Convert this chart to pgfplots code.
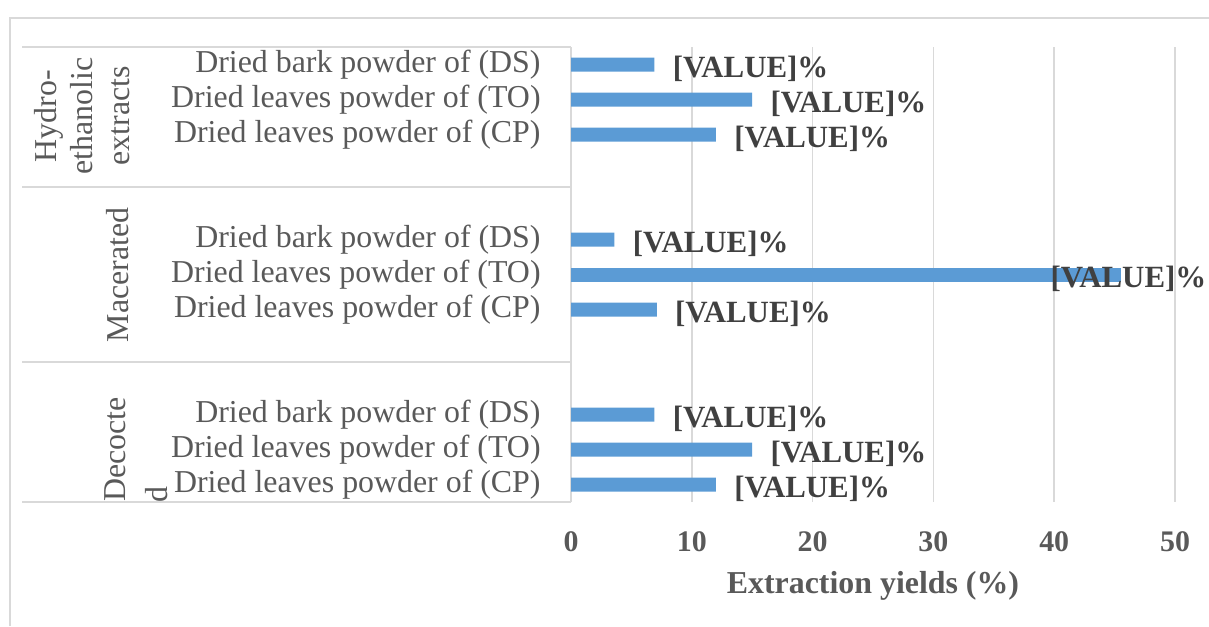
\documentclass[border=0pt]{standalone}
\usepackage{fontspec}
\setmainfont{Liberation Serif}
\usepackage{pgfplots}
\pgfplotsset{compat=1.18}
\definecolor{barblue}{HTML}{5B9BD5}
\definecolor{gridc}{HTML}{D9D9D9}
\definecolor{txt}{HTML}{595959}
\definecolor{lbl}{HTML}{404040}
\begin{document}
\begin{tikzpicture}[x=1bp,y=1bp]
\useasboundingbox (0,0) rectangle (604.5,313);
\draw[gridc, line width=1bp] (5,0) -- (5,304) -- (604.5,304);
\begin{axis}[
  at={(285.5bp,62bp)}, anchor=south west,
  scale only axis, width=302bp, height=227.5bp,
  xmin=0, xmax=50, ymin=-0.5, ymax=12.5, y dir=reverse,
  xbar, bar width=7bp, bar shift=0pt,
  axis line style={draw=none},
  xtick={0,10,...,50}, xmajorgrids, grid style={gridc, line width=0.75bp},
  major tick length=0pt,
  ytick={0,1,2,5,6,7,10,11,12},
  yticklabels={Dried bark powder of (DS), Dried leaves powder of (TO), Dried leaves powder of (CP),
               Dried bark powder of (DS), Dried leaves powder of (TO), Dried leaves powder of (CP),
               Dried bark powder of (DS), Dried leaves powder of (TO), Dried leaves powder of (CP)},
  yticklabel style={font=\fontsize{16}{18}\selectfont, text=txt, inner sep=0pt, anchor=east, xshift=-15bp},
  xticklabel style={font=\fontsize{15}{18}\selectfont\bfseries, text=txt, inner sep=0pt, anchor=north, yshift=-14.5bp},
  /pgf/number format/assume math mode=true,
  xlabel={Extraction yields (\%)},
  xlabel style={font=\fontsize{16}{18}\selectfont\bfseries, text=txt, inner sep=0pt, at={(axis description cs:0.5,0)}, anchor=north, yshift=-34.5bp},
  clip=false,
  nodes near coords={[VALUE]\%},
  every node near coord/.append style={font=\fontsize{15.5}{18}\selectfont\bfseries, text=lbl, inner sep=0pt, anchor=west, xshift=9bp, yshift=-2.25bp},
]
\addplot[fill=barblue, draw=none] coordinates {(6.9,0) (15,1) (12,2) (3.6,5) (7.1,7) (6.9,10) (15,11) (12,12)};
\addplot[fill=barblue, draw=none, every node near coord/.append style={anchor=east, xshift=34bp}] coordinates {(45.5,6)};
\draw[gridc, line width=1bp] (axis cs:0,-0.5) -- ++(-274.5bp,0pt);
\draw[gridc, line width=1bp] (axis cs:0,3.5) -- ++(-274.5bp,0pt);
\draw[gridc, line width=1bp] (axis cs:0,8.5) -- ++(-274.5bp,0pt);
\draw[gridc, line width=1bp] (axis cs:0,12.5) -- ++(-274.5bp,0pt);
\end{axis}
\node[rotate=90, font=\fontsize{16}{18.5}\selectfont, text=txt, align=center, inner sep=0pt] at (41,255) {Hydro-\\ethanolic\\extracts};
\node[rotate=90, font=\fontsize{16}{18.5}\selectfont, text=txt, inner sep=0pt] at (59,175.5) {Macerated};
\node[rotate=90, font=\fontsize{16}{18.5}\selectfont, text=txt, inner sep=0pt] at (57.5,88.25) {Decocte};
\node[rotate=90, font=\fontsize{16}{18.5}\selectfont, text=txt, inner sep=0pt] at (78.5,65.75) {d};
\end{tikzpicture}
\end{document}
